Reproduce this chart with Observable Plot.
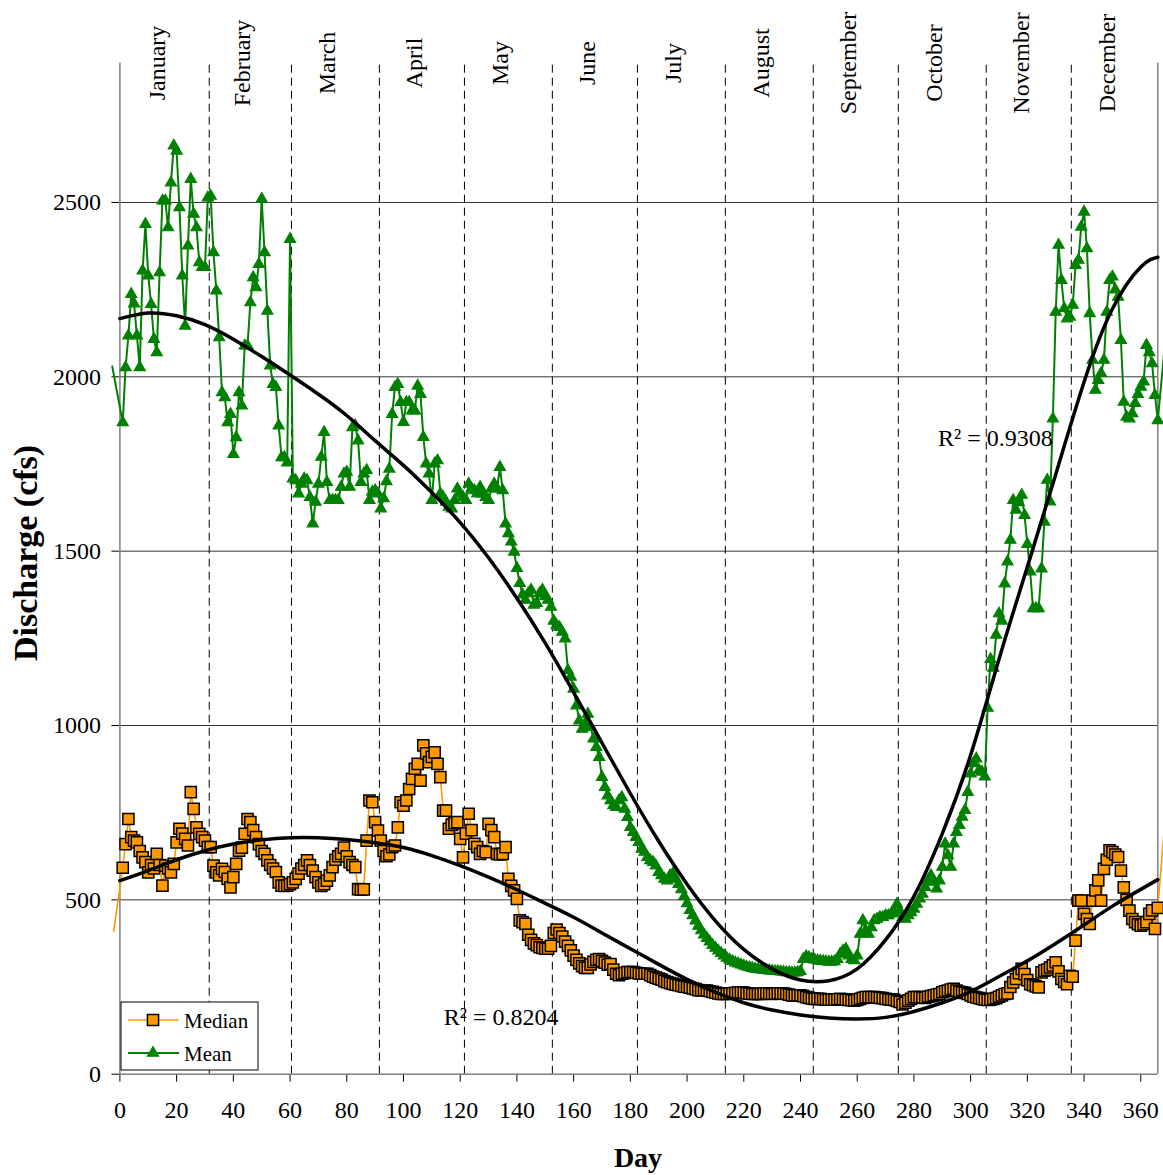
<!DOCTYPE html>
<html>
<head>
<meta charset="utf-8">
<script src="https://cdn.jsdelivr.net/npm/d3@7"></script>
<script src="https://cdn.jsdelivr.net/npm/@observablehq/plot@0.6"></script>
<style>
  html, body { margin: 0; padding: 0; background: #fff; }
  #chart svg { display: block; }
</style>
</head>
<body>
<div id="chart"></div>
<script>
// ---------------- data ----------------
const monthNames = ["January","February","March","April","May","June","July","August","September","October","November","December"];
const monthMid = [16, 46, 76, 106.5, 137, 167.5, 198, 229, 259.5, 290, 320.5, 351];
const monthBounds = [31.5, 60.5, 91.5, 121.5, 152.5, 182.5, 213.5, 244.5, 274.5, 305.5, 335.5];

const xTicks = [0,20,40,60,80,100,120,140,160,180,200,220,240,260,280,300,320,340,360];
const yTicks = [0,500,1000,1500,2000,2500];

// daily mean discharge, days 1..366
const meanValues = [
  1869,2027,2118,2237,2210,2118,2027,2304,2438,2290,
  2208,2108,2070,2299,2505,2505,2428,2557,2663,2648,
  2486,2290,2146,2376,2567,2467,2428,2328,2314,2314,
  2514,2519,2357,2247,2113,1955,1941,1869,1893,1778,
  1826,1955,1917,2089,2089,2213,2285,2256,2323,2510,
  2357,2189,2032,1979,1970,1860,1769,1769,1754,2395,
  1708,1703,1665,1693,1708,1703,1655,1579,1641,1693,
  1770,1841,1698,1646,1646,1646,1646,1684,1722,1727,
  1684,1855,1860,1817,1698,1722,1732,1646,1670,1674,
  1665,1622,1651,1700,1736,1893,1970,1979,1927,1870,
  1927,1927,1903,1903,1974,1950,1827,1751,1722,1646,
  1751,1760,1665,1655,1641,1627,1622,1646,1679,1665,
  1655,1646,1693,1679,1674,1665,1684,1665,1655,1646,
  1679,1693,1679,1741,1674,1579,1551,1527,1498,1451,
  1408,1375,1360,1379,1389,1346,1351,1379,1389,1370,
  1360,1340,1300,1287,1282,1268,1249,1158,1139,1105,
  1057,1014,990,1005,1033,995,962,938,909,852,
  823,799,785,771,766,785,794,761,737,708,
  694,680,665,646,637,622,613,608,598,579,
  570,560,555,570,575,560,545,530,510,490,
  470,455,440,425,412,400,390,380,370,362,
  354,347,340,333,328,324,320,317,314,311,
  308,306,304,302,301,300,299,298,297,296,
  295,295,294,293,292,292,291,291,292,295,
  330,338,335,330,328,326,325,324,323,322,
  322,323,330,345,354,359,340,330,326,340,
  402,441,412,402,421,441,445,450,450,455,
  455,460,464,488,469,450,445,455,464,474,
  488,503,517,536,555,570,551,532,555,594,
  661,627,594,661,694,714,738,757,809,862,
  891,905,872,867,853,1050,1190,1165,1260,1321,
  1300,1407,1470,1532,1646,1618,1640,1661,1603,1520,
  1441,1336,1336,1336,1450,1584,1704,1642,1880,2186,
  2378,2277,2196,2167,2172,2206,2320,2335,2430,2473,
  2368,2182,2048,1962,1990,2010,2048,2186,2277,2287,
  2250,2229,2105,1928,1885,1880,1895,1924,1950,1971,
  1986,2091,2070,2038,1947,1875
];

// daily median discharge, days 1..366
const medianValues = [
  592,660,732,680,670,665,640,622,608,579,
  600,590,632,600,541,598,590,579,603,665,
  704,690,675,656,809,761,708,689,680,670,
  651,651,598,579,570,589,580,560,536,565,
  603,641,650,689,732,723,700,680,660,640,
  632,613,600,590,580,550,541,540,541,545,
  550,560,575,590,600,613,600,584,565,550,
  540,545,555,570,594,615,625,632,650,625,
  608,600,594,531,529,530,670,785,780,723,
  699,670,640,625,630,651,656,708,780,770,
  785,818,847,876,890,842,943,920,895,910,
  923,890,852,756,756,704,715,720,723,675,
  622,690,747,700,661,651,632,640,637,718,
  700,680,632,630,632,651,560,540,527,503,
  441,436,431,400,385,375,370,364,362,360,
  360,368,405,415,405,395,380,368,355,340,
  328,318,310,305,305,315,322,328,330,325,
  320,314,316,300,288,284,288,290,293,293,
  293,291,289,288,288,288,284,280,277,274,
  271,267,264,261,259,257,255,253,251,250,
  248,246,244,241,240,240,240,238,236,234,
  232,230,230,230,231,232,233,234,235,234,
  232,231,230,230,230,230,231,232,231,230,
  231,232,232,231,230,228,226,226,226,226,
  224,221,219,217,216,216,216,215,214,214,
  214,214,215,216,215,214,213,212,211,213,
  216,219,221,221,221,221,220,219,218,216,
  215,214,213,210,207,200,205,211,216,221,
  221,221,220,219,222,224,226,228,230,235,
  238,240,243,245,240,236,235,233,230,226,
  222,220,218,216,214,213,214,216,218,222,
  226,230,232,250,263,273,290,302,287,270,
  258,255,252,249,292,297,300,306,312,321,
  295,273,265,258,282,280,383,498,498,460,
  445,431,498,527,556,498,589,615,642,637,
  630,623,584,536,500,469,445,436,430,426,
  430,436,460,470,417,477
];

// series continue just past the axis ends (values read where the lines leave the plot)
const meanLead = {day: -2.7, q: 2030}, meanTrail = {day: 368.4, q: 2085};
const medianLead = {day: -2.2, q: 410}, medianTrail = {day: 368.4, q: 715};

// polynomial trend lines
const trendDays   = [0,10,20,30,40,50,60,70,80,90,100,110,120,130,140,150,160,170,180,190,200,210,220,230,240,250,260,270,280,290,300,310,320,330,340,350,360,366];
const meanTrend   = [2167,2183,2175,2150,2108,2058,2005,1950,1889,1817,1746,1668,1582,1481,1365,1236,1095,950,805,668,545,440,358,302,270,268,302,385,510,690,915,1190,1455,1720,1985,2195,2315,2343];
const medianTrend = [555,584,615,641,660,672,678,678,673,664,650,627,598,565,529,490,450,405,360,315,272,235,205,184,170,161,158,163,180,205,237,280,325,375,428,482,530,558];

const r2Labels = [
  {day: 288.5, q: 1802, text: "R² = 0.9308"},
  {day: 114.2, q: 142, text: "R² = 0.8204"}
];

// ---------------- build ----------------
const days = d3.range(1, 367);
const meanPts = days.map((d, i) => ({day: d, q: meanValues[i]}));
const medianPts = days.map((d, i) => ({day: d, q: medianValues[i]}));
const meanLine = [meanLead, ...meanPts, meanTrail];
const medianLine = [medianLead, ...medianPts, medianTrail];
const meanTrendPts = trendDays.map((d, i) => ({day: d, q: meanTrend[i]}));
const medianTrendPts = trendDays.map((d, i) => ({day: d, q: medianTrend[i]}));
const months = monthNames.map((m, i) => ({name: m, mid: monthMid[i]}));

const ORANGE = "#ff9900", GREEN = "#008000", AXIS = "#808080", GRID = "#333333";
const FONT = '"Liberation Serif", "Times New Roman", Times, serif';

const chart = Plot.plot({
  width: 1163,
  height: 1175,
  marginLeft: 119.4,
  marginRight: 5.7,
  marginTop: 62.5,
  marginBottom: 101.3,
  style: {fontFamily: FONT, fontSize: "24px", color: "#000", background: "#fff"},
  x: {domain: [0, 366], ticks: xTicks, tickSize: 8, tickPadding: 19, tickFormat: "d", label: null},
  y: {domain: [0, 2900], ticks: yTicks, tickSize: 8, tickPadding: 11, tickFormat: "d", label: null},
  marks: [
    Plot.ruleY(yTicks.filter(v => v > 0), {stroke: GRID, strokeWidth: 1}),
    Plot.ruleX(monthBounds, {y1: 0, y2: 2900, stroke: "#000", strokeWidth: 1, strokeDasharray: "8,5"}),
    Plot.ruleX([0, 366], {y1: 0, y2: 2900, stroke: AXIS, strokeWidth: 1.5}),
    Plot.ruleY([0], {stroke: AXIS, strokeWidth: 1.5}),
    Plot.text(months, {x: "mid", frameAnchor: "top", text: "name", rotate: -90, textAnchor: "middle", lineAnchor: "bottom", fontSize: 24}),
    Plot.line(medianLine, {x: "day", y: "q", stroke: ORANGE, strokeWidth: 1.6}),
    Plot.dot(medianPts, {x: "day", y: "q", symbol: "square", r: 6.3, fill: ORANGE, stroke: "#000", strokeWidth: 1.5}),
    Plot.line(meanLine, {x: "day", y: "q", stroke: GREEN, strokeWidth: 2}),
    Plot.dot(meanPts, {x: "day", y: "q", symbol: "triangle", r: 4.1, fill: GREEN, stroke: GREEN, strokeWidth: 1.2}),
    Plot.line(medianTrendPts, {x: "day", y: "q", curve: "natural", stroke: "#000", strokeWidth: 3.5}),
    Plot.line(meanTrendPts, {x: "day", y: "q", curve: "natural", stroke: "#000", strokeWidth: 3.5}),
    Plot.text(r2Labels, {x: "day", y: "q", text: "text", textAnchor: "start", lineAnchor: "bottom", fontSize: 24})
  ]
});

document.getElementById("chart").appendChild(chart);

// axis titles and legend
const svg = d3.select(chart);
svg.append("text")
  .attr("transform", "translate(37,553) rotate(-90)")
  .attr("text-anchor", "middle")
  .attr("font-family", FONT).attr("font-weight", "bold").attr("font-size", 34)
  .attr("fill", "#000")
  .text("Discharge (cfs)");
svg.append("text")
  .attr("x", 638).attr("y", 1167)
  .attr("text-anchor", "middle")
  .attr("font-family", FONT).attr("font-weight", "bold").attr("font-size", 28)
  .attr("fill", "#000")
  .text("Day");

const lg = svg.append("g").attr("font-family", FONT).attr("font-size", 21).attr("text-anchor", "start");
lg.append("rect").attr("x", 121).attr("y", 1002).attr("width", 137).attr("height", 68)
  .attr("fill", "#fff").attr("stroke", "#000").attr("stroke-width", 1);
const entries = [
  {name: "Median", y: 1020, color: ORANGE, sym: d3.symbolSquare, size: Math.PI * 6.3 * 6.3, fill: ORANGE, stroke: "#000", sw: 1.5, lw: 1.6},
  {name: "Mean", y: 1053, color: GREEN, sym: d3.symbolTriangle, size: Math.PI * 4.1 * 4.1, fill: GREEN, stroke: GREEN, sw: 1.2, lw: 2}
];
for (const e of entries) {
  lg.append("line").attr("x1", 128).attr("x2", 179).attr("y1", e.y).attr("y2", e.y)
    .attr("stroke", e.color).attr("stroke-width", e.lw);
  lg.append("path").attr("transform", `translate(153,${e.y})`)
    .attr("d", d3.symbol(e.sym, e.size)())
    .attr("fill", e.fill).attr("stroke", e.stroke).attr("stroke-width", e.sw);
  lg.append("text").attr("x", 184).attr("y", e.y + 7.5).attr("text-anchor", "start").attr("fill", "#000").text(e.name);
}
</script>
</body>
</html>
